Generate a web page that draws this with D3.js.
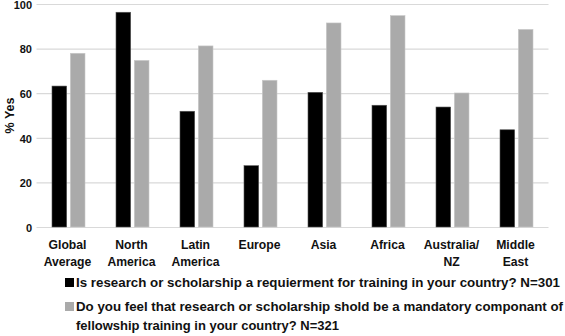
<!DOCTYPE html>
<html><head><meta charset="utf-8">
<script src="https://cdn.jsdelivr.net/npm/d3@7"></script>
<style>body{margin:0;background:#fff}svg{display:block}text{font-family:"Liberation Sans",Arial,sans-serif;font-weight:bold;fill:#111}</style>
</head><body><svg id="c" width="565" height="336"></svg>
<script>
const categories = [["Global","Average"],["North","America"],["Latin","America"],["Europe"],["Asia"],["Africa"],["Australia/","NZ"],["Middle","East"]];
const seriesNames = ["Is research or scholarship a requierment for training in your country? N=301",
  "Do you feel that research or scholarship shold be a mandatory componant of fellowship training in your country? N=321"];
const requirement = [63.2, 96.3, 51.9, 27.5, 60.4, 54.6, 53.8, 43.6];
const shouldBe = [77.9, 74.7, 81.2, 65.8, 91.5, 94.8, 60.1, 88.6];
const yTicks = [0, 20, 40, 60, 80, 100];
const colors = ["#000000", "#aaaaaa"];

(function(){
const svg = d3.select("#c");
const pLeft = 36.5, pRight = 548.5, pTop = 4, pBottom = 227;
const ids = d3.range(categories.length);
const x0 = d3.scaleBand().domain(ids).range([pLeft, pRight]).padding(0);
const x1 = d3.scaleBand().domain([0,1]).range([15.5, 48.5]).paddingInner(0.2).paddingOuter(0);
const y = d3.scaleLinear().domain([0,100]).range([pBottom, pTop]);

svg.append("g").selectAll("line").data(yTicks).join("line")
  .attr("x1", pLeft).attr("x2", pRight)
  .attr("y1", d => y(d)+0.5).attr("y2", d => y(d)+0.5)
  .attr("stroke", "#d9d9d9").attr("stroke-width", 1.2);

const yAxis = d3.axisLeft(y).tickValues(yTicks).tickSize(0).tickPadding(0);
const ga = svg.append("g").attr("transform", `translate(32,0.8)`).call(yAxis);
ga.select(".domain").remove();
ga.selectAll("text").attr("font-size", 11).attr("font-family", '"Liberation Sans",Arial,sans-serif').attr("font-weight","bold").attr("fill","#111");

svg.append("text").attr("transform", `translate(14,${y(50)}) rotate(-90)`)
  .attr("text-anchor","middle").attr("font-size", 12.5).text("% Yes");

const data = [requirement, shouldBe];
data.forEach((vals, s) => {
  svg.append("g").selectAll("rect").data(vals).join("rect")
    .attr("x", (d,i) => x0(i) + x1(s))
    .attr("width", x1.bandwidth())
    .attr("y", d => y(d))
    .attr("height", d => y(0) - y(d))
    .attr("fill", colors[s])
    .attr("stroke", s === 0 ? "#555" : "#c8c8c8").attr("stroke-width", 0.6);
});

const cl = svg.append("g");
categories.forEach((lines, i) => {
  const cx = x0(i) + x0.bandwidth()/2 - 1;
  const t = cl.append("text").attr("text-anchor","middle").attr("font-size", 12.2)
    .attr("x", cx).attr("y", 249);
  lines.forEach((ln, j) => t.append("tspan").attr("x", cx).attr("dy", j ? 16.5 : 0).text(ln));
});

const lg = svg.append("g");
const tx = 76, sx = 65;
lg.append("rect").attr("x", sx).attr("y", 278).attr("width", 9).attr("height", 9).attr("fill", colors[0]);
lg.append("text").attr("x", tx).attr("y", 287).attr("font-size", 13)
  .attr("textLength", 484).attr("lengthAdjust", "spacingAndGlyphs").text(seriesNames[0]);
lg.append("rect").attr("x", sx).attr("y", 302).attr("width", 9).attr("height", 9).attr("fill", colors[1]);
lg.append("text").attr("x", tx).attr("y", 311).attr("font-size", 13)
  .attr("textLength", 487).attr("lengthAdjust", "spacingAndGlyphs")
  .text("Do you feel that research or scholarship shold be a mandatory componant of");
lg.append("text").attr("x", tx).attr("y", 330).attr("font-size", 13)
  .attr("textLength", 263).attr("lengthAdjust", "spacingAndGlyphs")
  .text("fellowship training in your country? N=321");
})();
</script></body></html>
